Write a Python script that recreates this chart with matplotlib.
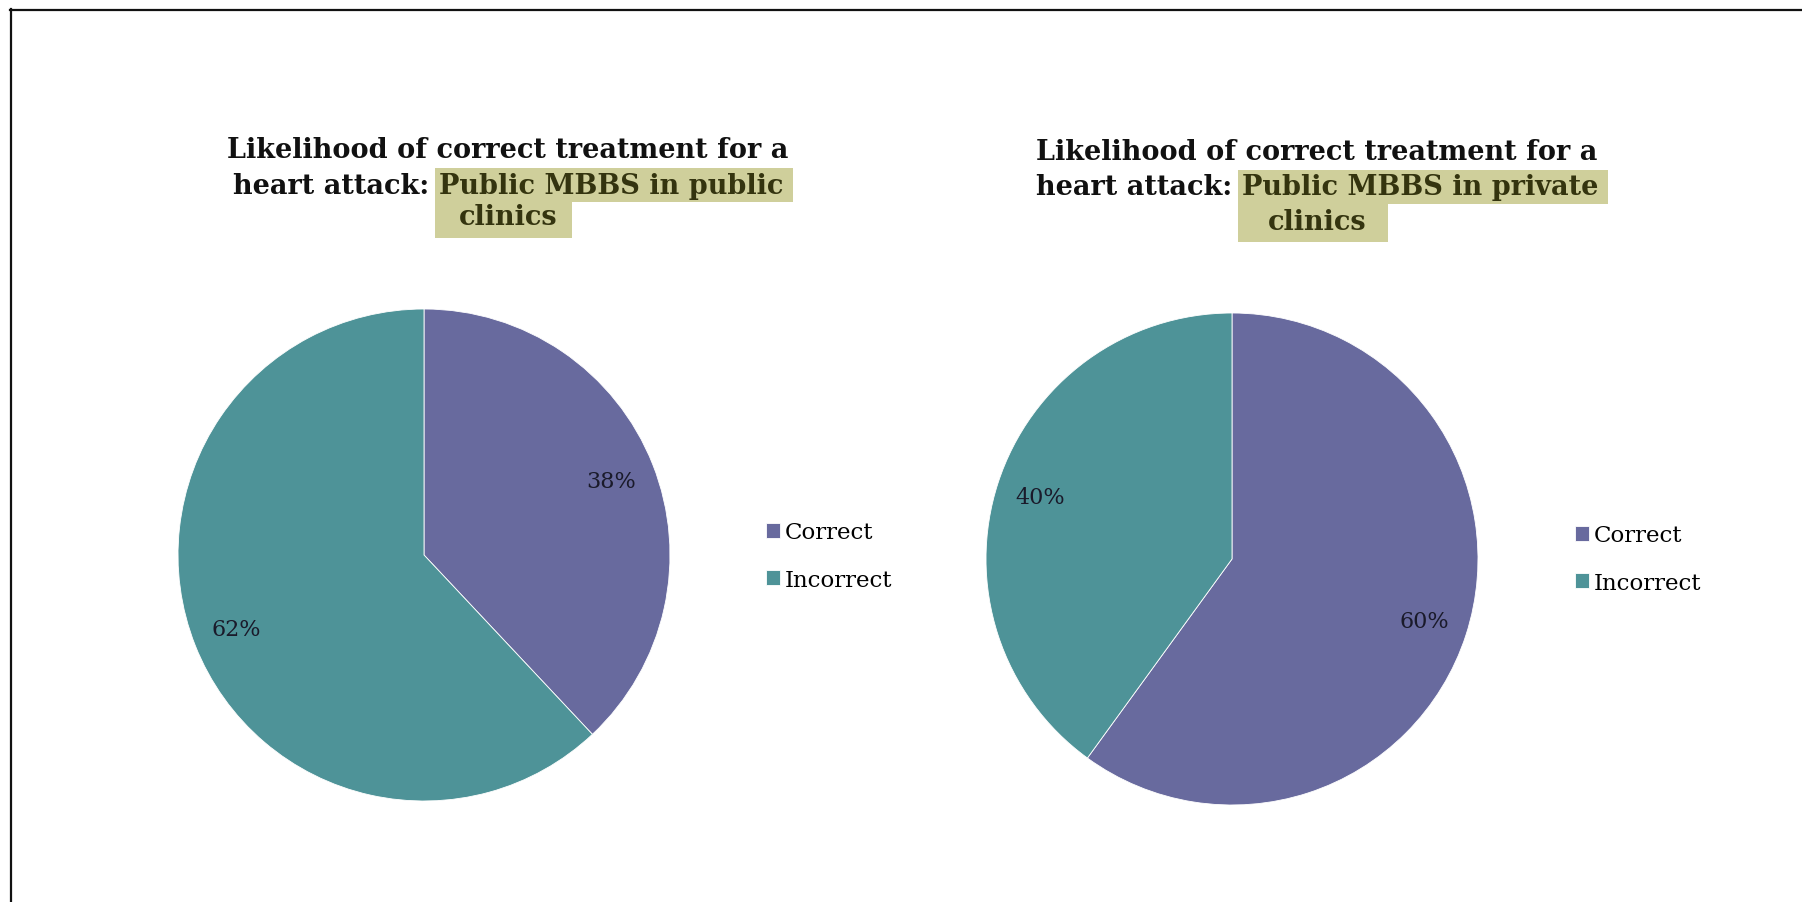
import matplotlib
matplotlib.use("Agg")
import matplotlib.pyplot as plt
from matplotlib.lines import Line2D
from matplotlib.patches import Rectangle

# ---- data ----
categories = ["Correct", "Incorrect"]
public_clinics = [38, 62]
private_clinics = [60, 40]
title_line1 = "Likelihood of correct treatment for a"
title_line2_plain = "heart attack: "
title_highlight = ["Public MBBS in public", "Public MBBS in private"]
title_line3 = "clinics"

colors = ["#686A9E", "#4E9398"]
hl_color = "#CFCF9B"
hl_text = "#34340F"
W, H = 1802, 903
fig = plt.figure(figsize=(W / 100, H / 100), dpi=100)
fig.patch.set_facecolor("white")
renderer = fig.canvas.get_renderer()

serif = "DejaVu Serif"

def fx(px):
    return px / W

def fy(py):
    return 1 - py / H

def text_width(s, size, weight="bold"):
    t = fig.text(0, 0, s, fontsize=size, fontfamily=serif, fontweight=weight)
    w = t.get_window_extent(renderer).width
    t.remove()
    return w

# fit title font size to reference width of the first line (~561 px)
tsize = 20
tsize = tsize * 561 / text_width(title_line1, tsize)

def hl_rect(x0, x1, yc, half):
    # x in pixels from left, yc in pixels from top
    fig.add_artist(Rectangle((fx(x0), fy(yc + half)), (x1 - x0) / W, (2 * half) / H,
                             transform=fig.transFigure, fc=hl_color, ec="none",
                             zorder=0))

def draw_title(cx, ys, highlight, pad3):
    fig.text(fx(cx), fy(ys[0]), title_line1, ha="center", va="center",
             fontsize=tsize, fontfamily=serif, fontweight="bold", color="#111111")
    w1 = text_width(title_line2_plain, tsize)
    w2 = text_width(highlight, tsize)
    w3 = text_width(title_line3, tsize)
    x0 = cx - (w1 + w2) / 2
    fig.text(fx(x0), fy(ys[1]), title_line2_plain, ha="left", va="center",
             fontsize=tsize, fontfamily=serif, fontweight="bold", color="#111111",
             zorder=2)
    fig.text(fx(x0 + w1), fy(ys[1]), highlight, ha="left", va="center",
             fontsize=tsize, fontfamily=serif, fontweight="bold", color=hl_text,
             zorder=2)
    fig.text(fx(cx), fy(ys[2]), title_line3, ha="center", va="center",
             fontsize=tsize, fontfamily=serif, fontweight="bold", color=hl_text,
             zorder=2)
    hx0 = x0 + w1 - 4
    hl_rect(hx0, x0 + w1 + w2 + 10, ys[1], 17)
    hl_rect(hx0, cx + w3 / 2 + pad3, ys[2] + 2, 19)

def draw_pie(cx, cy, r, values, legend_x, legend_y):
    ax = fig.add_axes([fx(cx - r), fy(cy + r), (2 * r) / W, (2 * r) / H])
    wedges, _, autotexts = ax.pie(
        values, colors=colors, startangle=90, counterclock=False,
        autopct=lambda p: f"{p:.0f}%", pctdistance=0.82,
        wedgeprops=dict(edgecolor="white", linewidth=0.6),
        textprops=dict(fontsize=16, fontfamily=serif, color="#1a1a2a"))
    ax.set_xlim(-1, 1)
    ax.set_ylim(-1, 1)
    ax.set_aspect("equal")
    ax.axis("off")
    fig.legend(wedges, categories, loc="center left",
               bbox_to_anchor=(fx(legend_x), fy(legend_y)),
               frameon=False, handlelength=0.6, handleheight=0.6,
               handletextpad=0.2, labelspacing=1.1, borderpad=0,
               prop=dict(family=serif, size=16.5))

draw_title(508, [150, 186, 218], title_highlight[0], 15)
draw_title(1317, [153, 188, 222], title_highlight[1], 22)

draw_pie(424, 556, 246, public_clinics, 755, 557)
draw_pie(1232, 560, 246, private_clinics, 1564, 560)

# partial frame (top and left edges)
fig.add_artist(Line2D([fx(10), 1], [fy(11), fy(11)], color="#111111", lw=1.6,
                      transform=fig.transFigure))
fig.add_artist(Line2D([fx(11), fx(11)], [0, fy(10)], color="#111111", lw=1.6,
                      transform=fig.transFigure))

fig.savefig("out.png", dpi=100, facecolor="white")
